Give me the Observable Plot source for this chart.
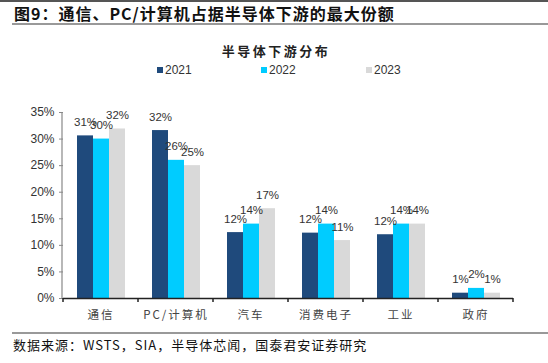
<!DOCTYPE html>
<html>
<head>
<meta charset="utf-8">
<script src="https://cdn.jsdelivr.net/npm/d3@7"></script>
<script src="https://cdn.jsdelivr.net/npm/@observablehq/plot@0.6"></script>
<style>
  html, body { margin: 0; padding: 0; background: #fff; }
  #wrap { position: relative; width: 548px; height: 363px; overflow: hidden; background: #fff; }
  #wrap .abs { position: absolute; white-space: nowrap; }
  #title { left: 14px; top: 3px; font: 700 16px "Noto Sans CJK SC", sans-serif; letter-spacing: 1px; color: #111; line-height: 20px; }
  #topline { left: 0; top: 0; width: 548px; height: 2px; background: #555; }
  #tline { left: 12px; top: 23px; width: 536px; height: 2px; background: #999; }
  #ctitle { left: 0; width: 548px; top: 41px; text-align: center; font: 700 13px "Noto Sans CJK SC", sans-serif; letter-spacing: 2.5px; color: #222; padding-left: 4px; box-sizing: border-box; }
  #legend { left: 0; top: 62px; width: 548px; height: 16px; }
  .li { position: absolute; top: 0; font: 12px "Liberation Sans", Arial, sans-serif; color: #333; line-height: 16px; }
  .sw { display: inline-block; width: 6px; height: 6px; margin-right: 2px; vertical-align: 1px; }
  #bline { left: 12px; top: 332px; width: 536px; height: 2px; background: #999; }
  #source { left: 13px; top: 336px; font: 13px "Noto Sans CJK SC", serif; letter-spacing: 1px; color: #111; line-height: 18px; }
  #chart { left: 0; top: 0; }
  #chart [aria-label="fx-axis tick label"] text { letter-spacing: 2px; }
</style>
</head>
<body>
<div id="wrap">
  <div class="abs" id="topline"></div>
  <div class="abs" id="title">图9：通信、PC/计算机占据半导体下游的最大份额</div>
  <div class="abs" id="tline"></div>
  <div class="abs" id="ctitle">半导体下游分布</div>
  <div class="abs" id="legend"></div>
  <div class="abs" id="chart"></div>
  <div class="abs" id="bline"></div>
  <div class="abs" id="source">数据来源：WSTS，SIA，半导体芯闻，国泰君安证券研究</div>
</div>
<script>
const categories = ["通信", "PC/计算机", "汽车", "消费电子", "工业", "政府"];
const years = ["2021", "2022", "2023"];
const values2021 = [30.6, 31.6, 12.4, 12.3, 12.0, 1.0];
const values2022 = [30.0, 26.0, 14.0, 14.0, 14.0, 1.9];
const values2023 = [31.9, 25.0, 16.9, 10.9, 14.0, 1.0];
const yTicks = [0, 5, 10, 15, 20, 25, 30, 35];
const colors = ["#1F4A7C", "#00CCFF", "#D9D9D9"];

const series = [values2021, values2022, values2023];
const data = [];
categories.forEach((c, i) => {
  years.forEach((yr, j) => data.push({category: c, year: yr, value: series[j][i]}));
});

const plot = Plot.plot({
  width: 548,
  height: 363,
  marginLeft: 62,
  marginRight: 35,
  marginTop: 112,
  marginBottom: 65,
  style: {background: "transparent", fontFamily: "'Liberation Sans', Arial, sans-serif"},
  fx: {domain: categories, padding: 0, label: null},
  x: {domain: years, paddingInner: 0, paddingOuter: 0.75, axis: null},
  y: {domain: [0, 35], label: null},
  color: {domain: years, range: colors},
  marks: [
    Plot.barY(data, {fx: "category", x: "year", y: "value", fill: "year", inset: 0}),
    Plot.text(data, {
      fx: "category", x: "year", y: "value",
      text: d => Math.round(d.value) + "%",
      dy: -10, lineAnchor: "bottom", fontSize: 11.5, fill: "#333"
    }),
    Plot.ruleY([0], {stroke: "#222", strokeWidth: 1.5}),
    Plot.axisY({
      ticks: yTicks, tickFormat: d => d + "%", tickSize: 4, tickPadding: 5,
      fontSize: 12, stroke: "#888", fill: "#333", label: null
    }),
    Plot.axisFx({
      anchor: "bottom", tickSize: 0, tickPadding: 12, fontSize: 11.5,
      fontFamily: "'Noto Sans CJK SC', sans-serif", fill: "#444", label: null
    })
  ]
});

// y-axis line and category boundary ticks, positioned from the plot's own scales
const fx = plot.scale("fx");
const ys = plot.scale("y");
const svg = d3.select(plot);
const y0 = ys.apply(0);
const yTop = ys.apply(d3.max(yTicks));
const x0 = fx.range[0];
svg.append("line")
  .attr("x1", x0).attr("x2", x0).attr("y1", y0).attr("y2", yTop)
  .attr("stroke", "#888").attr("stroke-width", 1.2);
const step = fx.step ?? fx.bandwidth ?? ((fx.range[1] - fx.range[0]) / categories.length);
const bounds = categories.map(c => fx.apply(c)).concat([fx.apply(categories[categories.length - 1]) + step]);
svg.append("g").selectAll("line").data(bounds).join("line")
  .attr("x1", d => d).attr("x2", d => d).attr("y1", y0).attr("y2", y0 + 4)
  .attr("stroke", "#222").attr("stroke-width", 1.5);

document.getElementById("chart").appendChild(plot);

// legend
const legendX = [157, 261, 366];
const legend = document.getElementById("legend");
years.forEach((yr, i) => {
  const el = document.createElement("div");
  el.className = "li";
  el.style.left = legendX[i] + "px";
  const sw = document.createElement("span");
  sw.className = "sw";
  sw.style.background = colors[i];
  el.appendChild(sw);
  el.appendChild(document.createTextNode(yr));
  legend.appendChild(el);
});
</script>
</body>
</html>
